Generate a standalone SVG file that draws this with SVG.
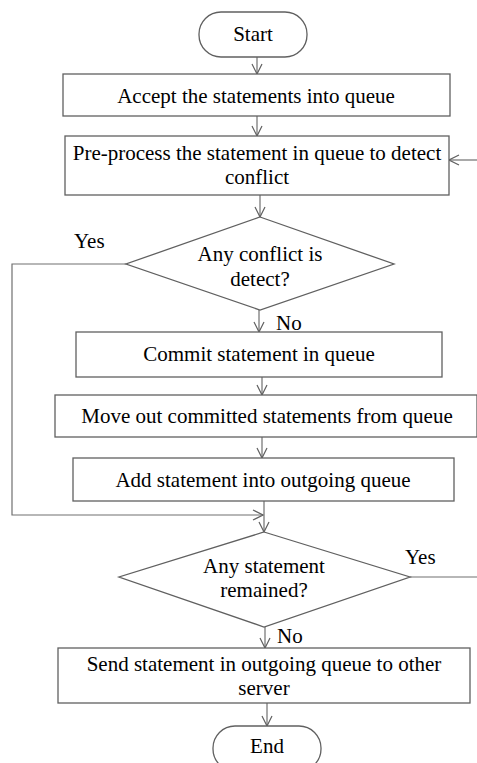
<svg xmlns="http://www.w3.org/2000/svg" width="477" height="763" viewBox="0 0 477 763">
<defs>
<style>
.s{fill:#fff;stroke:#606060;stroke-width:1.3}
.c{fill:none;stroke:#707070;stroke-width:1.2}
.t{text-anchor:middle}
</style>
<marker id="a" markerWidth="12" markerHeight="12" refX="11" refY="6" orient="auto" markerUnits="userSpaceOnUse">
<path d="M1,1 L11,6 L1,11" fill="none" stroke="#606060" stroke-width="1.2"/>
</marker>
</defs>
<rect width="477" height="763" fill="#fff"/>
<g id="connectors">
<line class="c" x1="257" y1="57" x2="257" y2="74" marker-end="url(#a)"/>
<line class="c" x1="257" y1="116" x2="257" y2="136" marker-end="url(#a)"/>
<line class="c" x1="477" y1="160" x2="449" y2="160" marker-end="url(#a)"/>
<line class="c" x1="260" y1="195" x2="260" y2="217" marker-end="url(#a)"/>
<polyline class="c" points="126,264 12,264 12,515 263,515" marker-end="url(#a)"/>
<line class="c" x1="259" y1="310" x2="259" y2="332" marker-end="url(#a)"/>
<line class="c" x1="262" y1="377" x2="262" y2="395" marker-end="url(#a)"/>
<line class="c" x1="262" y1="437" x2="262" y2="458" marker-end="url(#a)"/>
<line class="c" x1="264" y1="501" x2="264" y2="532" marker-end="url(#a)"/>
<line class="c" x1="410" y1="577" x2="477" y2="577"/>
<line class="c" x1="265" y1="627" x2="265" y2="648" marker-end="url(#a)"/>
<line class="c" x1="267" y1="703" x2="267" y2="726" marker-end="url(#a)"/>
</g>
<g font-family="Liberation Serif, Times New Roman, serif" font-size="21" fill="#000">
<g id="start">
<rect class="s" x="199" y="12" width="108" height="45" rx="22"/>
<text class="t" x="253" y="41">Start</text>
</g>
<g id="accept">
<rect class="s" x="63" y="74" width="387" height="42"/>
<text class="t" x="256" y="103">Accept the statements into queue</text>
</g>
<g id="preprocess">
<rect class="s" x="65" y="136" width="384" height="59"/>
<text class="t" x="257" y="160">Pre-process the statement in queue to detect</text>
<text class="t" x="257" y="184">conflict</text>
</g>
<g id="conflict">
<polygon class="s" points="260,217 394,264 260,310 126,264"/>
<text class="t" x="260" y="261">Any conflict is</text>
<text class="t" x="260" y="286">detect?</text>
</g>
<g id="labels1">
<text x="74" y="248">Yes</text>
<text x="276" y="330">No</text>
</g>
<g id="commit">
<rect class="s" x="76" y="332" width="366" height="45"/>
<text class="t" x="259" y="361">Commit statement in queue</text>
</g>
<g id="moveout">
<rect class="s" x="55" y="395" width="422" height="42"/>
<text class="t" x="267" y="423">Move out committed statements from queue</text>
</g>
<g id="add">
<rect class="s" x="73" y="458" width="381" height="43"/>
<text class="t" x="263" y="487">Add statement into outgoing queue</text>
</g>
<g id="remained">
<polygon class="s" points="264,532 410,577 264,627 119,577"/>
<text class="t" x="264" y="573">Any statement</text>
<text class="t" x="264" y="597">remained?</text>
</g>
<g id="labels2">
<text x="405" y="564">Yes</text>
<text x="277" y="643">No</text>
</g>
<g id="send">
<rect class="s" x="58" y="648" width="412" height="55"/>
<text class="t" x="264" y="671">Send statement in outgoing queue to other</text>
<text class="t" x="264" y="695">server</text>
</g>
<g id="end">
<rect class="s" x="213" y="726" width="108" height="45" rx="22"/>
<text class="t" x="267" y="753">End</text>
</g>
</g>
</svg>
